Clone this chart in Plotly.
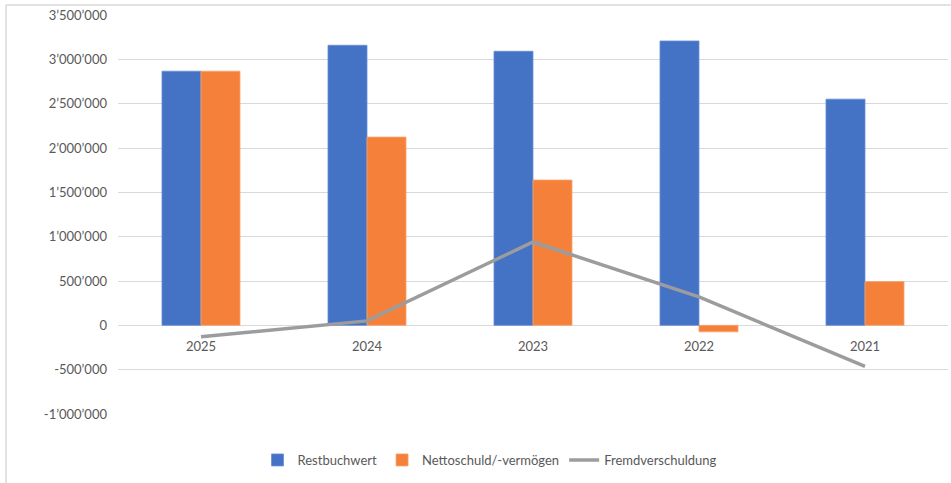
import plotly.graph_objects as go

years = ["2025", "2024", "2023", "2022", "2021"]
restbuchwert = [2866000, 3159000, 3091000, 3207000, 2551000]
nettoschuld = [2866000, 2123000, 1639000, -73000, 493000]
fremdverschuldung = [-130000, 50000, 940000, 320000, -464000]

y_tickvals = [-1000000, -500000, 0, 500000, 1000000, 1500000, 2000000, 2500000, 3000000, 3500000]
y_ticktext = ["-1’000’000", "-500’000", "0", "500’000", "1’000’000", "1’500’000",
              "2’000’000", "2’500’000", "3’000’000", "3’500’000"]

FONT = "Lato, Open Sans, sans-serif"

fig = go.Figure()
fig.add_trace(go.Bar(x=years, y=restbuchwert, name="Restbuchwert",
                     marker=dict(color="#4472C4", line=dict(color="#6A8FD6", width=0.8))))
fig.add_trace(go.Bar(x=years, y=nettoschuld, name="Nettoschuld/-vermögen",
                     marker=dict(color="#F4803A", line=dict(color="#F8A36E", width=0.8))))
fig.add_trace(go.Scatter(x=years, y=fremdverschuldung, name="Fremdverschuldung",
                         mode="lines", line=dict(color="#9C9C9E", width=3.5)))

ymin, ymax = -1000000, 3500000
zero_pos = (0 - ymin) / (ymax - ymin)

L, R, T, B = 118, 3, 15, 69
W, H = 951, 483
pw, ph = W - L - R, H - T - B

fig.update_layout(
    width=W, height=H,
    margin=dict(l=L, r=R, t=T, b=B, autoexpand=False),
    paper_bgcolor="white", plot_bgcolor="white",
    barmode="group", bargap=0.53, bargroupgap=0,
    font=dict(family=FONT, size=13, color="#595959"),
    showlegend=True,
    legend=dict(orientation="h", x=(490 - L) / pw, xanchor="center",
                y=(H - B - 460) / ph, yanchor="middle",
                font=dict(size=13, color="#595959"), tracegroupgap=0),
    xaxis=dict(anchor="free", position=zero_pos, showline=False, ticks="",
               showgrid=False, tickfont=dict(size=13, color="#595959"), ticklabelstandoff=12),
    yaxis=dict(range=[ymin, ymax], tickvals=y_tickvals, ticktext=y_ticktext,
               showgrid=True, gridcolor="#D9D9D9", gridwidth=1,
               zeroline=True, zerolinecolor="#D9D9D9", zerolinewidth=1,
               showline=False, ticks="", ticklabelstandoff=10,
               tickfont=dict(size=13, color="#595959")),
    shapes=[
        dict(type="line", xref="paper", yref="paper",
             x0=(6 - L) / pw, x1=(6 - L) / pw, y0=(H - B - 5) / ph, y1=(H - B - 483) / ph,
             line=dict(color="#D9D9D9", width=1.5)),
        dict(type="line", xref="paper", yref="paper",
             x0=(6 - L) / pw, x1=(W - L) / pw, y0=(H - B - 5) / ph, y1=(H - B - 5) / ph,
             line=dict(color="#D9D9D9", width=1.5)),
    ],
)

fig.write_html("out.html", config={"displayModeBar": False})

with open("out.html", "r", encoding="utf-8") as f:
    html = f.read()
html = html.replace("<body>", '<body style="margin:0;padding:0;">', 1)
with open("out.html", "w", encoding="utf-8") as f:
    f.write(html)
